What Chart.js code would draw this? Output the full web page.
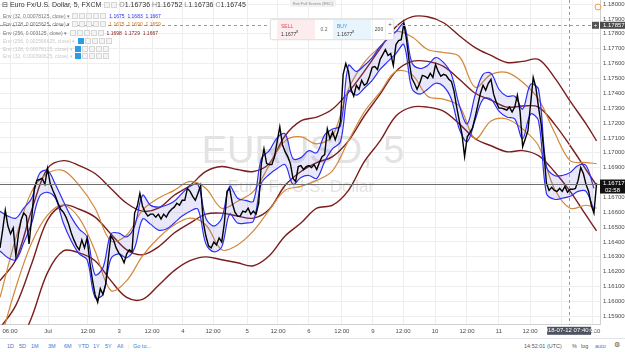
<!DOCTYPE html>
<html>
<head>
<meta charset="utf-8">
<script src="https://cdn.jsdelivr.net/npm/chart.js@4.4.0/dist/chart.umd.min.js"></script>
<style>
  body { margin: 0; width: 625px; height: 352px; overflow: hidden; background: #fff; font-family: "Liberation Sans", Arial, sans-serif; }
  #wrap { position: relative; width: 625px; height: 338px; }
  #chart { position: absolute; left: 0; top: 0; }
  .row { position: absolute; left: 3px; white-space: nowrap; color: #777; font-size: 5px; line-height: 7px; }
  .ico { display: inline-block; width: 4px; height: 4px; border: 1px solid #d6d6d6; background: #f4f4f4; margin-left: 1px; vertical-align: -1px; }
  .ico.on { background: #2d9be6; border-color: #2d9be6; }
  .row .v { margin-left: 3px; }
  .faded { color: #c9c9c9; }
  #title { position: absolute; left: 2px; top: 1px; font-size: 7px; color: #333; white-space: nowrap; }
  #title b { font-weight: normal; color: #888; }
  #trade { position: absolute; left: 270px; top: 19px; width: 122px; height: 19px; background: #fff; border: 1px solid #e3e3e3; border-radius: 2px; box-shadow: 0 0 2px rgba(0,0,0,0.12); font-size: 5px; }
  #trade div { position: absolute; top: 0; height: 19px; }
  .sell { left: 6px; width: 38px; background: #fdecee; color: #333; }
  .buy { left: 62px; width: 38px; background: #e8f5fc; color: #333; }
  .sell span, .buy span { position: absolute; left: 4px; }
  .spread { left: 44px; width: 18px; text-align: center; line-height: 19px; color: #666; }
  .qty { left: 101px; width: 12px; text-align: center; line-height: 19px; color: #444; border-left: 1px solid #eee; }
  .pm { left: 114px; width: 8px; text-align: center; color: #444; font-size: 6px; line-height: 9px; border-left: 1px solid #eee; }
  #esc { position: absolute; left: 290px; top: 0; width: 46px; height: 7px; background: #f2f2f2; border-radius: 1px; font-size: 4px; line-height: 7px; color: #888; text-align: center; }
  #bar { position: absolute; left: 0; top: 338px; width: 625px; height: 14px; border-top: 1px solid #e2e4ea; font-size: 5.5px; color: #3a7bd5; }
  #bar span { position: absolute; top: 4px; }
  .gray { color: #555 !important; }
</style>
</head>
<body>
<div id="wrap">
  <canvas id="chart" width="625" height="338"></canvas>
  <div id="title">&#8863; Euro Fx/U.S. Dollar, 5, FXCM <span class="ico"></span><span class="ico"></span> <b>O</b>1.16736 <b>H</b>1.16752 <b>L</b>1.16736 <b>C</b>1.16745</div>
  <div class="row" style="top:12.5px">Env (32, 0.00078125, close) &#9662; <span class="ico"></span><span class="ico"></span><span class="ico"></span><span class="ico"></span><span class="ico"></span><span class="v" style="color:#2b2bf0">1.1675 &nbsp;1.1683 &nbsp;1.1667</span></div>
  <div class="row" style="top:21px">Env (128, 0.0015625, close) &#9662; <span class="ico"></span><span class="ico"></span><span class="ico"></span><span class="ico"></span><span class="ico"></span><span class="v" style="color:#cc7a2c">1.1675 &nbsp;1.1690 &nbsp;1.1659</span></div>
  <div class="row" style="top:29.5px">Env (256, 0.003125, close) &#9662; <span class="ico"></span><span class="ico"></span><span class="ico"></span><span class="ico"></span><span class="ico"></span><span class="v" style="color:#7d1e1e">1.1698 &nbsp;1.1729 &nbsp;1.1667</span></div>
  <div class="row faded" style="top:38px">Env (256, 0.001566625, close) &#9662; <span class="ico on"></span><span class="ico"></span><span class="ico"></span><span class="ico"></span><span class="ico"></span></div>
  <div class="row faded" style="top:45.5px">Env (128, 0.00078125, close) &#9662; <span class="ico on"></span><span class="ico"></span><span class="ico"></span><span class="ico"></span><span class="ico"></span></div>
  <div class="row faded" style="top:53px">Env (32, 0.000390625, close) &#9662; <span class="ico on"></span><span class="ico"></span><span class="ico"></span><span class="ico"></span><span class="ico"></span></div>
  <div id="esc">Exit Full Screen (ESC)</div>
  <div id="trade">
    <div class="sell"><span style="top:3px;color:#e0475a">SELL</span><span style="top:10px">1.1677<sup style="font-size:3.5px">8</sup></span></div>
    <div class="spread">0.2</div>
    <div class="buy"><span style="top:3px;color:#1f98e0">BUY</span><span style="top:10px">1.1677<sup style="font-size:3.5px">8</sup></span></div>
    <div class="qty">200</div>
    <div class="pm">+<br>&minus;</div>
  </div>
</div>
<div id="bar">
  <span style="left:7px">1D</span><span style="left:19px">5D</span><span style="left:31px">1M</span><span style="left:48px">3M</span><span style="left:64px">6M</span><span style="left:78px">YTD</span><span style="left:93px">1Y</span><span style="left:105px">5Y</span><span style="left:117px">All</span>
  <span style="left:128px;color:#ddd">|</span><span style="left:133px">Go to...</span>
  <span class="gray" style="left:524px">14:52:01 (UTC)</span>
  <span style="left:560px;color:#ddd">|</span>
  <span class="gray" style="left:572px">%</span><span class="gray" style="left:581px">log</span><span style="left:595px">auto</span><span class="gray" style="left:614px;font-size:7px;top:2px">&#9881;</span>
</div>

<script>
// --- Données (EURUSD 5 min, heures depuis le bord gauche) ---

// prix de clôture, un point par heure (h = 0 .. 226)
const PRICE = [
  1.16360, 1.16480, 1.16614, 1.16507, 1.16454, 1.16494, 1.16307, 1.16454, 1.16547, 1.16594,
  1.16574, 1.16387, 1.16560, 1.16760, 1.16814, 1.16820, 1.16827, 1.16787, 1.16894, 1.16794,
  1.16747, 1.16707, 1.16660, 1.16620, 1.16600, 1.16567, 1.16520, 1.16460, 1.16414, 1.16374,
  1.16347, 1.16414, 1.16360, 1.16427, 1.16267, 1.16147, 1.16047, 1.15994, 1.16087, 1.16047,
  1.16114, 1.16280, 1.16440, 1.16414, 1.16360, 1.16327, 1.16300, 1.16260, 1.16320, 1.16347,
  1.16334, 1.16594, 1.16640, 1.16727, 1.16640, 1.16600, 1.16574, 1.16587, 1.16587, 1.16567,
  1.16587, 1.16554, 1.16587, 1.16567, 1.16600, 1.16620, 1.16634, 1.16660, 1.16647, 1.16680,
  1.16680, 1.16760, 1.16740, 1.16707, 1.16680, 1.16727, 1.16780, 1.16534, 1.16440, 1.16374,
  1.16360, 1.16400, 1.16380, 1.16427, 1.16400, 1.16527, 1.16740, 1.16760, 1.16660, 1.16600,
  1.16574, 1.16574, 1.16607, 1.16600, 1.16627, 1.16587, 1.16607, 1.16587, 1.16660, 1.16927,
  1.17027, 1.16927, 1.16920, 1.16920, 1.16974, 1.17074, 1.17174, 1.17054, 1.17007, 1.16974,
  1.16927, 1.16827, 1.16807, 1.16907, 1.16914, 1.16887, 1.16907, 1.16914, 1.16900, 1.16920,
  1.16887, 1.16934, 1.16974, 1.16987, 1.17160, 1.17094, 1.17140, 1.17087, 1.17140, 1.17214,
  1.17527, 1.17600, 1.17547, 1.17427, 1.17380, 1.17454, 1.17427, 1.17487, 1.17454, 1.17467,
  1.17514, 1.17574, 1.17580, 1.17560, 1.17627, 1.17660, 1.17694, 1.17654, 1.17667, 1.17587,
  1.17727, 1.17754, 1.17760, 1.17870, 1.17760, 1.17614, 1.17500, 1.17467, 1.17427, 1.17467,
  1.17520, 1.17514, 1.17500, 1.17534, 1.17507, 1.17594, 1.17547, 1.17514, 1.17527, 1.17520,
  1.17494, 1.17480, 1.17414, 1.17307, 1.17214, 1.17127, 1.16974, 1.17107, 1.17134, 1.17167,
  1.17240, 1.17320, 1.17400, 1.17454, 1.17420, 1.17467, 1.17494, 1.17394, 1.17340, 1.17300,
  1.17300, 1.17294, 1.17287, 1.17307, 1.17274, 1.17307, 1.17387, 1.17280, 1.17040, 1.17094,
  1.17147, 1.17327, 1.17507, 1.17440, 1.17307, 1.17194, 1.17014, 1.16794, 1.16747, 1.16767,
  1.16747, 1.16740, 1.16760, 1.16740, 1.16774, 1.16734, 1.16754, 1.16754, 1.16760, 1.16814,
  1.16900, 1.16860, 1.16787, 1.16740, 1.16647, 1.16594, 1.16794
];

// Env(32) bleu : toutes les 3 heures
const BLUE_HOURS = [
  0, 3, 6, 9, 12, 15, 18, 21, 24, 27, 30, 33, 36, 39, 42, 45, 48, 51, 54, 57,
  60, 63, 66, 69, 72, 75, 78, 81, 84, 87, 90, 93, 96, 99, 102, 105, 108, 111, 114, 117,
  120, 123, 126, 129, 132, 135, 138, 141, 144, 147, 150, 153, 156, 159, 162, 165, 168, 171, 174, 177,
  180, 183, 186, 189, 192, 195, 198, 201, 204, 207, 210, 213, 216, 219, 222, 225
];
const BLUE_UPPER = [
  1.16607, 1.16574, 1.16560, 1.16627, 1.16694, 1.16860, 1.16880, 1.16787, 1.16674, 1.16567,
  1.16487, 1.16434, 1.16180, 1.16227, 1.16454, 1.16460, 1.16434, 1.16507, 1.16714, 1.16647,
  1.16634, 1.16647, 1.16674, 1.16727, 1.16774, 1.16787, 1.16560, 1.16507, 1.16560, 1.16774,
  1.16694, 1.16680, 1.16674, 1.16960, 1.17014, 1.17100, 1.17127, 1.16960, 1.16967, 1.17014,
  1.17000, 1.17120, 1.17160, 1.17180, 1.17587, 1.17547, 1.17587, 1.17640, 1.17714, 1.17767,
  1.17814, 1.17867, 1.17607, 1.17567, 1.17587, 1.17640, 1.17607, 1.17527, 1.17320, 1.17194,
  1.17387, 1.17527, 1.17534, 1.17427, 1.17380, 1.17380, 1.17294, 1.17460, 1.17427, 1.16907,
  1.16847, 1.16847, 1.16867, 1.16914, 1.16914, 1.16760
];
const BLUE_LOWER = [
  1.16340, 1.16294, 1.16280, 1.16394, 1.16527, 1.16707, 1.16734, 1.16694, 1.16527, 1.16407,
  1.16320, 1.16280, 1.16027, 1.16047, 1.16287, 1.16320, 1.16294, 1.16360, 1.16554, 1.16520,
  1.16480, 1.16487, 1.16527, 1.16574, 1.16607, 1.16620, 1.16387, 1.16334, 1.16367, 1.16587,
  1.16527, 1.16527, 1.16540, 1.16794, 1.16854, 1.16894, 1.16920, 1.16787, 1.16834, 1.16847,
  1.16827, 1.16940, 1.17027, 1.17074, 1.17414, 1.17387, 1.17434, 1.17487, 1.17560, 1.17614,
  1.17667, 1.17727, 1.17434, 1.17394, 1.17427, 1.17467, 1.17447, 1.17360, 1.17160, 1.17074,
  1.17220, 1.17360, 1.17360, 1.17280, 1.17240, 1.17227, 1.17094, 1.17260, 1.17214, 1.16727,
  1.16687, 1.16694, 1.16707, 1.16740, 1.16740, 1.16614
];

// Env(128) orange et Env(256) bordeaux : toutes les 6 heures
const ENV_HOURS = [
  0, 6, 12, 18, 24, 30, 36, 42, 48, 54, 60, 66, 72, 78, 84, 90, 96, 102, 108, 114,
  120, 126, 132, 138, 144, 150, 156, 162, 168, 174, 180, 186, 192, 198, 204, 210, 216, 222, 226
];
const ORANGE_UPPER = [
  1.16027, 1.16427, 1.16740, 1.16860, 1.16880, 1.16780, 1.16627, 1.16407, 1.16447, 1.16614,
  1.16694, 1.16747, 1.16807, 1.16760, 1.16627, 1.16674, 1.16740, 1.16914, 1.17080, 1.17107,
  1.17060, 1.17114, 1.17427, 1.17607, 1.17714, 1.17814, 1.17780, 1.17694, 1.17674, 1.17647,
  1.17440, 1.17527, 1.17540, 1.17474, 1.17360, 1.17140, 1.16947, 1.16934, 1.16927
];
const ORANGE_LOWER = [
  1.15727, 1.16094, 1.16394, 1.16580, 1.16647, 1.16560, 1.16340, 1.16074, 1.16140, 1.16307,
  1.16427, 1.16514, 1.16560, 1.16514, 1.16347, 1.16380, 1.16474, 1.16614, 1.16747, 1.16774,
  1.16814, 1.16880, 1.17080, 1.17274, 1.17407, 1.17547, 1.17527, 1.17380, 1.17360, 1.17314,
  1.17094, 1.17214, 1.17227, 1.17160, 1.17047, 1.16760, 1.16627, 1.16647, 1.16627
];
const MAROON_UPPER = [
  1.16140, 1.16280, 1.16614, 1.16894, 1.16947, 1.16914, 1.16860, 1.16760, 1.16660, 1.16607,
  1.16627, 1.16714, 1.16780, 1.16874, 1.16907, 1.16887, 1.16874, 1.16927, 1.17114, 1.17214,
  1.17240, 1.17294, 1.17407, 1.17547, 1.17700, 1.17847, 1.17914, 1.17914, 1.17874, 1.17787,
  1.17707, 1.17654, 1.17607, 1.17614, 1.17627, 1.17507, 1.17347, 1.17194, 1.17080
];
const MAROON_BASIS = [
  1.15820, 1.15974, 1.16254, 1.16547, 1.16647, 1.16620, 1.16567, 1.16454, 1.16347, 1.16314,
  1.16367, 1.16460, 1.16527, 1.16587, 1.16594, 1.16574, 1.16560, 1.16620, 1.16780, 1.16874,
  1.16934, 1.16974, 1.17080, 1.17247, 1.17394, 1.17547, 1.17614, 1.17614, 1.17580, 1.17494,
  1.17400, 1.17354, 1.17307, 1.17314, 1.17307, 1.17194, 1.17047, 1.16887, 1.16780
];
const MAROON_LOWER = [
  1.15494, 1.15660, 1.15894, 1.16194, 1.16340, 1.16327, 1.16274, 1.16140, 1.16027, 1.16014,
  1.16107, 1.16207, 1.16274, 1.16300, 1.16280, 1.16260, 1.16240, 1.16307, 1.16440, 1.16527,
  1.16627, 1.16647, 1.16747, 1.16940, 1.17080, 1.17247, 1.17307, 1.17307, 1.17280, 1.17194,
  1.17094, 1.17047, 1.17007, 1.17014, 1.16980, 1.16874, 1.16740, 1.16580, 1.16474
];

// axe des temps (heures) et étiquettes
const TICK_HOURS = [3.8, 18.2, 33.3, 45.1, 57.6, 69.3, 80.7, 93.6, 105.3, 117.0, 129.5, 141.3, 152.7, 164.8, 176.9, 189.0, 200.8, 212.9, 224.6];
const TICK_LABELS = ["06:00", "Jul", "12:00", "3", "12:00", "4", "12:00", "5", "12:00", "6", "12:00", "9", "12:00", "10", "12:00", "11", "12:00", "12", "12:00"];

// réticule et ligne d'ordre
const CROSS_HOUR = 215.6;
const CROSS_TIME = "2018-07-12 07:40:00";
const CROSS_PRICE = 1.16793;
const CROSS_LABEL = "1.16717";
const COUNTDOWN = "02:58";
const ORDER_PRICE = 1.17857;

const BLUE = "#2f2ff2";
const ORANGE = "#d3883a";
const MAROON = "#7c1d1d";

function points(xs, ys) {
  return ys.map((v, i) => ({ x: xs[i], y: v }));
}

function envLine(label, xs, ys, color, width, extra) {
  return Object.assign({
    label: label,
    data: points(xs, ys),
    borderColor: color,
    borderWidth: width,
    pointRadius: 0,
    tension: 0.35,
    fill: false
  }, extra || {});
}

// filigrane au centre du graphique
const watermark = {
  id: "watermark",
  beforeDatasetsDraw(chart) {
    const c = chart.ctx;
    c.save();
    c.fillStyle = "#e3e3e3";
    c.textAlign = "center";
    c.font = '38px "Liberation Sans", Arial, sans-serif';
    c.fillText("EURUSD, 5", 303, 163);
    c.font = '17px "Liberation Sans", Arial, sans-serif';
    c.fillText("Euro Fx/U.S. Dollar", 301, 192);
    c.restore();
  }
};

// réticule, ligne d'ordre et étiquettes des axes
const overlay = {
  id: "overlay",
  afterDatasetsDraw(chart) {
    const c = chart.ctx, a = chart.chartArea;
    const xs = chart.scales.x, ys = chart.scales.y;
    const cx = Math.round(xs.getPixelForValue(CROSS_HOUR)) + 0.5;
    const cy = Math.round(ys.getPixelForValue(CROSS_PRICE)) + 0.5;
    const oy = Math.round(ys.getPixelForValue(ORDER_PRICE)) + 0.5;
    c.save();
    c.lineWidth = 1;
    c.strokeStyle = "#9a9a9a";
    c.setLineDash([3, 3]);
    c.beginPath(); c.moveTo(cx, a.top); c.lineTo(cx, a.bottom); c.stroke();
    c.beginPath(); c.moveTo(a.left, oy); c.lineTo(a.right, oy); c.stroke();
    c.setLineDash([]);
    c.strokeStyle = "#6e6e6e";
    c.beginPath(); c.moveTo(a.left, cy); c.lineTo(a.right, cy); c.stroke();
    c.restore();
  },
  afterDraw(chart) {
    const c = chart.ctx, a = chart.chartArea;
    const xs = chart.scales.x, ys = chart.scales.y;
    const cx = xs.getPixelForValue(CROSS_HOUR);
    const cy = ys.getPixelForValue(CROSS_PRICE);
    const oy = ys.getPixelForValue(ORDER_PRICE);
    c.save();
    c.font = '6px "Liberation Sans", Arial, sans-serif';
    c.textBaseline = "middle";
    // étiquette de la ligne d'ordre
    c.fillStyle = "#555";
    c.fillRect(a.right - 8, oy - 3.5, 7, 7);
    c.fillStyle = "#4b4b4b";
    c.fillRect(a.right, oy - 3.5, 25, 7);
    c.fillStyle = "#fff";
    c.textAlign = "center";
    c.fillText("+", a.right - 4.5, oy);
    c.textAlign = "left";
    c.fillText(ORDER_PRICE.toFixed(5), a.right + 3, oy);
    // étiquette du prix et compte à rebours
    c.fillStyle = "#111";
    c.fillRect(a.right, cy - 4, 25, 14);
    c.fillStyle = "#fff";
    c.fillText(CROSS_LABEL, a.right + 3, cy);
    c.fillText(COUNTDOWN, a.right + 5, cy + 6.5);
    // étiquette de temps du réticule
    c.fillStyle = "#4c525e";
    c.fillRect(cx - 22, a.bottom + 2, 44, 8);
    c.fillStyle = "#fff";
    c.textAlign = "center";
    c.fillText(CROSS_TIME, cx, a.bottom + 6);
    // icône d'alerte en haut à droite
    c.strokeStyle = "#f0a04b";
    c.lineWidth = 1;
    c.beginPath(); c.arc(a.right - 2, 7, 3, 0, Math.PI * 2); c.stroke();
    c.restore();
  }
};

new Chart(document.getElementById("chart"), {
  type: "line",
  data: {
    datasets: [
      {
        label: "EURUSD",
        data: points(PRICE.map((_, i) => i), PRICE),
        borderColor: "#000",
        borderWidth: 1.4,
        pointRadius: 0,
        tension: 0,
        fill: false
      },
      envLine("Env32 haut", BLUE_HOURS, BLUE_UPPER, BLUE, 1.2),
      envLine("Env32 bas", BLUE_HOURS, BLUE_LOWER, BLUE, 1.2, { fill: "-1", backgroundColor: "rgba(95,95,220,0.14)" }),
      envLine("Env128 haut", ENV_HOURS, ORANGE_UPPER, ORANGE, 1.2),
      envLine("Env128 bas", ENV_HOURS, ORANGE_LOWER, ORANGE, 1.2),
      envLine("Env256 haut", ENV_HOURS, MAROON_UPPER, MAROON, 1.4),
      envLine("Env256 base", ENV_HOURS, MAROON_BASIS, MAROON, 1.4),
      envLine("Env256 bas", ENV_HOURS, MAROON_LOWER, MAROON, 1.4)
    ]
  },
  options: {
    responsive: false,
    animation: false,
    devicePixelRatio: 1,
    layout: { padding: 0 },
    plugins: { legend: { display: false }, tooltip: { enabled: false } },
    scales: {
      x: {
        type: "linear",
        min: 0,
        max: 227.3,
        afterBuildTicks: (scale) => { scale.ticks = TICK_HOURS.map(v => ({ value: v })); },
        afterFit: (scale) => { scale.paddingLeft = 0; scale.paddingRight = 0; },
        ticks: {
          autoSkip: false,
          maxRotation: 0,
          padding: 3,
          color: "#4a4a4a",
          font: { size: 6, family: '"Liberation Sans", Arial, sans-serif' },
          callback: (v, i) => TICK_LABELS[i]
        },
        grid: { color: "#eeeeee", drawTicks: false },
        border: { color: "#d0d0d0" }
      },
      y: {
        position: "right",
        min: 1.15843,
        max: 1.18027,
        afterFit: (scale) => { scale.width = 25; scale.paddingTop = 0; scale.paddingBottom = 0; },
        ticks: {
          stepSize: 0.001,
          includeBounds: false,
          padding: 3,
          color: "#4a4a4a",
          font: { size: 6, family: '"Liberation Sans", Arial, sans-serif' },
          callback: (v) => v.toFixed(5)
        },
        grid: { color: "#eeeeee", drawTicks: false },
        border: { color: "#d0d0d0" }
      }
    }
  },
  plugins: [watermark, overlay]
});
</script>
</body>
</html>
